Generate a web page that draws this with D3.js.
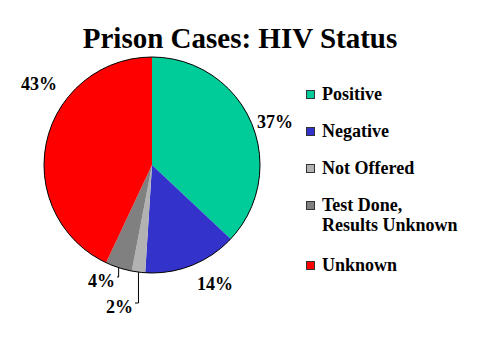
<!DOCTYPE html>
<html><head><meta charset="utf-8">
<script src="https://cdn.jsdelivr.net/npm/d3@7"></script>
<style>html,body{margin:0;padding:0;background:#fff;}svg{display:block;}</style>
</head><body>
<svg id="chart" width="480" height="360"></svg>
<script>
const titleText = "Prison Cases: HIV Status";
const categories = ["Positive", "Negative", "Not Offered", "Test Done,\nResults Unknown", "Unknown"];
const values = [37, 14, 2, 4, 43];
const pctLabels = ["37%", "14%", "2%", "4%", "43%"];
const colors = ["#00CC99", "#3333CC", "#B2B2B2", "#808080", "#FF0000"];

const svg = d3.select("#chart");
const font = "'Liberation Serif','Times New Roman',serif";
const cx = 152, cy = 165, R = 108;

svg.append("text").attr("x", 240).attr("y", 48).attr("text-anchor", "middle")
  .attr("font-family", font).attr("font-weight", "bold").attr("font-size", 29)
  .text(titleText);

const pie = d3.pie().sort(null).value(d => d)(values);
const arc = d3.arc().innerRadius(0).outerRadius(R);
const g = svg.append("g").attr("transform", `translate(${cx},${cy})`);
g.selectAll("path").data(pie).join("path")
  .attr("d", arc).attr("fill", (d, i) => colors[i]).attr("stroke", "none");
g.append("circle").attr("r", R).attr("fill", "none").attr("stroke", "#000").attr("stroke-width", 1);

// label placement (layout)
const labelPos = [
  {x: 275, y: 128, anchor: "middle"},
  {x: 215, y: 290, anchor: "middle"},
  {x: 133, y: 313, anchor: "end", leader: true},
  {x: 115, y: 287, anchor: "end", leader: true},
  {x: 39, y: 90, anchor: "middle"}
];
pie.forEach((d, i) => {
  const p = labelPos[i];
  svg.append("text").attr("x", p.x).attr("y", p.y).attr("text-anchor", p.anchor)
    .attr("font-family", font).attr("font-weight", "bold").attr("font-size", 18)
    .text(pctLabels[i]);
  if (p.leader) {
    const a = (d.startAngle + d.endAngle) / 2;
    const ex = cx + R * Math.sin(a), ey = cy - R * Math.cos(a);
    const ly = p.y - 10;
    svg.append("polyline")
      .attr("points", `${ex},${ey} ${ex},${ly} ${p.x + 2},${ly}`)
      .attr("fill", "none").attr("stroke", "#000").attr("stroke-width", 1);
  }
});

// legend
const legBase = [100, 137, 174, 211, 271];
categories.forEach((c, i) => {
  svg.append("rect").attr("x", 306.5).attr("y", legBase[i] - 9.5).attr("width", 8).attr("height", 8)
    .attr("fill", colors[i]).attr("stroke", "#333").attr("stroke-width", 1);
  const t = svg.append("text").attr("x", 322).attr("y", legBase[i])
    .attr("font-family", font).attr("font-weight", "bold").attr("font-size", 18);
  c.split("\n").forEach((line, j) => {
    t.append("tspan").attr("x", 322).attr("dy", j === 0 ? 0 : 20).text(line);
  });
});
</script>
</body></html>
